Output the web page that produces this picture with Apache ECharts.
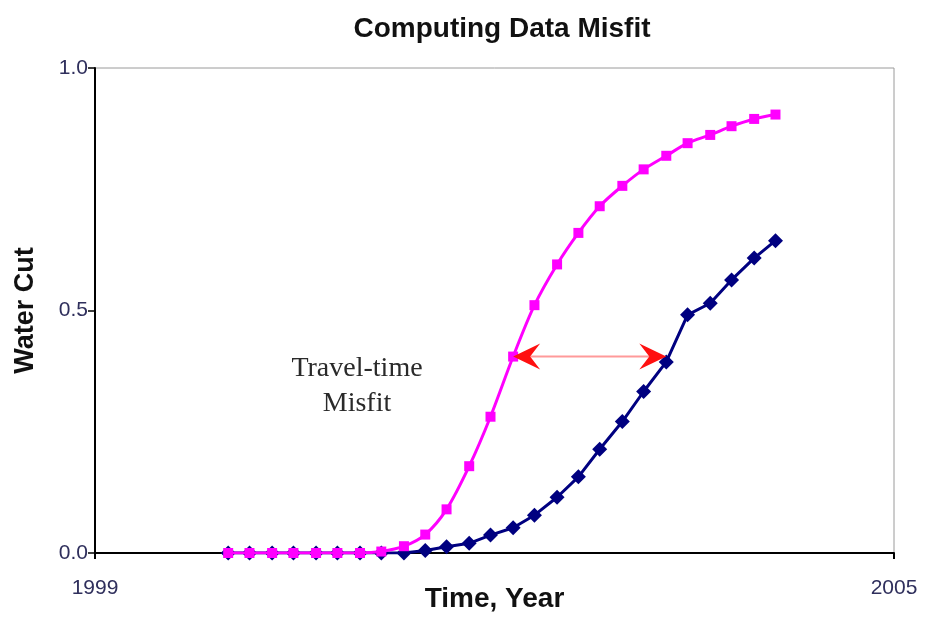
<!DOCTYPE html>
<html>
<head>
<meta charset="utf-8">
<title>Computing Data Misfit</title>
<script src="https://cdn.jsdelivr.net/npm/echarts@6/dist/echarts.min.js"></script>
<style>
  html, body { margin: 0; padding: 0; background: #ffffff; }
  #chart { width: 926px; height: 617px; }
</style>
</head>
<body>
<div id="chart"></div>
<script>
// Sampling times (decimal years), shared by both curves
const years = [
  2000.00, 2000.16, 2000.33, 2000.49, 2000.66, 2000.82, 2000.99, 2001.15,
  2001.32, 2001.48, 2001.64, 2001.81, 2001.97, 2002.14, 2002.30, 2002.47,
  2002.63, 2002.79, 2002.96, 2003.12, 2003.29, 2003.45, 2003.62, 2003.78,
  2003.95, 2004.11
];

// Simulated water cut (magenta squares)
const simulated = [
  0, 0, 0, 0, 0, 0, 0, 0.003,
  0.014, 0.038, 0.090, 0.179, 0.281, 0.405, 0.511, 0.595,
  0.660, 0.715, 0.757, 0.791, 0.819, 0.845, 0.862, 0.880,
  0.895, 0.904
];

// Observed water cut (navy diamonds)
const observed = [
  0, 0, 0, 0, 0, 0, 0, 0,
  0, 0.005, 0.013, 0.020, 0.037, 0.052, 0.078, 0.115,
  0.157, 0.214, 0.271, 0.333, 0.394, 0.491, 0.515, 0.563,
  0.608, 0.644
];

const xTicks = [1999, 2005];
const yTicks = [0, 0.5, 1.0];

// Travel-time misfit arrow: from simulated sample to observed sample at the same level
const arrowFromIdx = 13;
const arrowToIdx = 20;
const arrowData = [[years[arrowFromIdx], years[arrowToIdx], simulated[arrowFromIdx]]];

const chart = echarts.init(document.getElementById('chart'), null, { renderer: 'canvas' });

function pairs(xs, ys) { return xs.map((x, i) => [x, ys[i]]); }

const labelColor = '#2f2f5c';
const sans = 'Liberation Sans, Arial, sans-serif';

chart.setOption({
  animation: false,
  backgroundColor: '#ffffff',
  title: {
    text: 'Computing Data Misfit',
    left: 497,
    top: 10,
    textAlign: 'center',
    textStyle: { fontFamily: sans, fontWeight: 'bold', fontSize: 28, color: '#111111' }
  },
  grid: {
    left: 95, right: 32, top: 68, bottom: 64,
    outerBoundsMode: 'none',
    containLabel: false,
    show: true, borderColor: '#9a9a9a', borderWidth: 1, backgroundColor: 'transparent'
  },
  xAxis: {
    type: 'value',
    min: xTicks[0], max: xTicks[xTicks.length - 1],
    name: 'Time, Year',
    nameLocation: 'middle',
    nameGap: 32,
    nameMoveOverlap: false,
    nameTextStyle: { fontFamily: sans, fontWeight: 'bold', fontSize: 28, color: '#111111' },
    axisLine: { show: true, onZero: false, lineStyle: { color: '#000000', width: 2 } },
    axisTick: { show: true, customValues: xTicks, length: 6, lineStyle: { color: '#000000', width: 2 } },
    axisLabel: {
      customValues: xTicks, margin: 25,
      formatter: v => String(v),
      fontFamily: sans, fontSize: 21, color: labelColor
    },
    splitLine: { show: false }
  },
  yAxis: {
    type: 'value',
    min: 0, max: 1, interval: 0.5,
    name: 'Water Cut',
    nameLocation: 'middle',
    nameRotate: 90,
    nameGap: 56,
    nameTextStyle: { fontFamily: sans, fontWeight: 'bold', fontSize: 27, color: '#111111' },
    axisLine: { show: true, lineStyle: { color: '#000000', width: 2 } },
    axisTick: { show: true, customValues: yTicks, length: 7, lineStyle: { color: '#000000', width: 1.5 } },
    axisLabel: {
      customValues: yTicks, margin: 7,
      formatter: v => Number(v).toFixed(1),
      fontFamily: sans, fontSize: 21, color: labelColor
    },
    splitLine: { show: false }
  },
  graphic: [
    {
      type: 'text',
      x: 357,
      y: 351,
      style: {
        text: 'Travel-time\nMisfit',
        textAlign: 'center',
        textVerticalAlign: 'top',
        font: '28px "Liberation Serif", "Times New Roman", serif',
        lineHeight: 35,
        fill: '#2a2a2a'
      }
    }
  ],
  series: [
    {
      name: 'Observed',
      type: 'line',
      data: pairs(years, observed),
      symbol: 'diamond',
      symbolSize: 15,
      itemStyle: { color: '#000080' },
      lineStyle: { color: '#000080', width: 3 },
      z: 2
    },
    {
      name: 'Simulated',
      type: 'line',
      data: pairs(years, simulated),
      symbol: 'rect',
      symbolSize: 10,
      smooth: 0.3,
      itemStyle: { color: '#ff00ff' },
      lineStyle: { color: '#ff00ff', width: 3 },
      z: 3
    },
    {
      name: 'Misfit',
      type: 'custom',
      data: arrowData,
      z: 4,
      renderItem: function (params, api) {
        const p1 = api.coord([api.value(0), api.value(2)]);
        const p2 = api.coord([api.value(1), api.value(2)]);
        const len = 27, half = 13, notch = 17;
        const headL = [[p1[0], p1[1]], [p1[0] + len, p1[1] - half], [p1[0] + notch, p1[1]], [p1[0] + len, p1[1] + half]];
        const headR = [[p2[0], p2[1]], [p2[0] - len, p2[1] - half], [p2[0] - notch, p2[1]], [p2[0] - len, p2[1] + half]];
        return {
          type: 'group',
          children: [
            { type: 'line', shape: { x1: p1[0] + notch, y1: p1[1], x2: p2[0] - notch, y2: p2[1] },
              style: { stroke: '#ff9a9a', lineWidth: 2 } },
            { type: 'polygon', shape: { points: headL }, style: { fill: '#ff1010' } },
            { type: 'polygon', shape: { points: headR }, style: { fill: '#ff1010' } }
          ]
        };
      }
    }
  ]
});
</script>
</body>
</html>
